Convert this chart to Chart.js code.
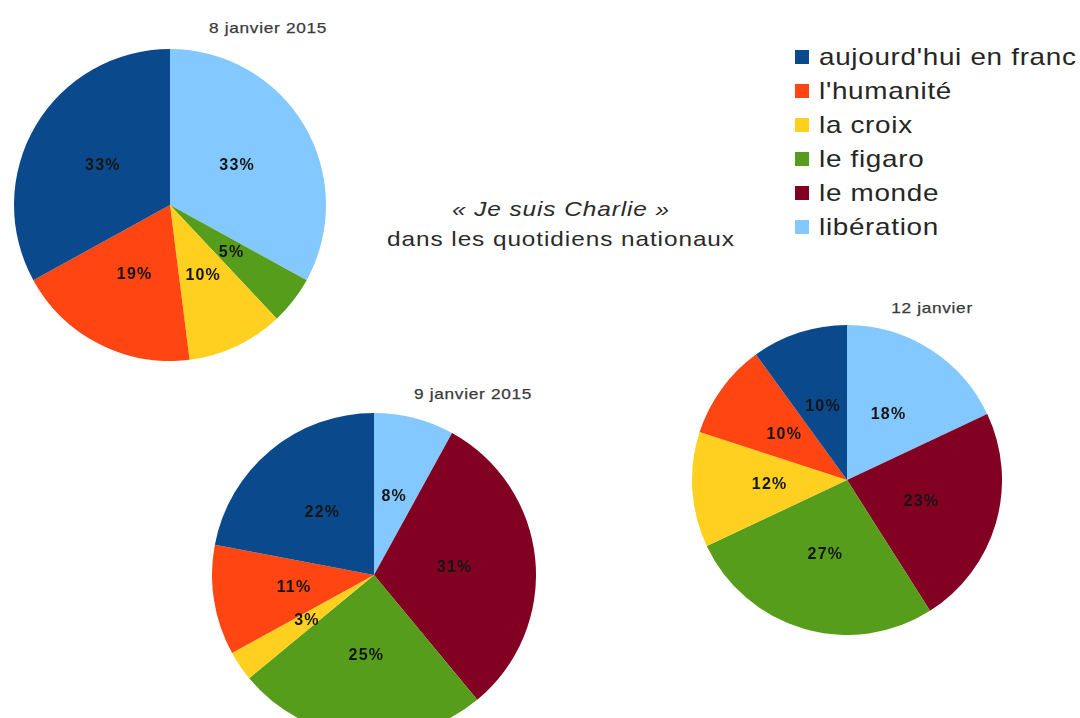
<!DOCTYPE html>
<html>
<head>
<meta charset="utf-8">
<script src="https://cdn.jsdelivr.net/npm/chart.js@4/dist/chart.umd.min.js"></script>
<style>
  html, body { margin: 0; padding: 0; width: 1080px; height: 718px; overflow: hidden; background: #ffffff; }
  body { position: relative; font-family: "Liberation Sans", Arial, sans-serif; }
  .pie { position: absolute; }
  .ptitle { position: absolute; transform: translate(-50%, -50%) scaleX(1.15); font-size: 15px; letter-spacing: 0.6px; color: #3a3a3a; white-space: nowrap; -webkit-text-stroke: 0.25px #3a3a3a; }
  .main { position: absolute; left: 561px; top: 224px; transform: translate(-50%, -50%) scaleX(1.16); text-align: center; color: #2a2a2a; font-size: 21px; letter-spacing: 0.8px; line-height: 30px; white-space: nowrap; }
  #legend { position: absolute; left: 795px; top: 40px; }
  .lrow { position: relative; height: 34px; white-space: nowrap; }
  .lbox { position: absolute; left: 0; top: 10px; width: 14px; height: 14px; }
  .ltxt { position: absolute; left: 24px; top: 0; line-height: 34px; font-size: 24px; letter-spacing: 0.6px; color: #262626; transform-origin: 0 50%; transform: scaleX(1.16); }
</style>
</head>
<body>
<div class="pie" style="left:14px; top:49px;"><canvas id="c1" width="312" height="312"></canvas></div>
<div class="pie" style="left:212px; top:413px;"><canvas id="c2" width="324" height="324"></canvas></div>
<div class="pie" style="left:692px; top:325px;"><canvas id="c3" width="310" height="310"></canvas></div>

<div class="ptitle" id="t1" style="left:268px; top:27px;"></div>
<div class="ptitle" id="t2" style="left:473px; top:393px;"></div>
<div class="ptitle" id="t3" style="left:932px; top:307px;"></div>

<div class="main"><i>« Je suis Charlie »</i><br>dans les quotidiens nationaux</div>

<div id="legend"></div>

<script>
// ---- data ----
const categories = ["aujourd'hui en franc", "l'humanité", "la croix", "le figaro", "le monde", "libération"];
const jan8 = [33, 19, 10, 5, 0, 33];
const jan9 = [22, 11, 3, 25, 31, 8];
const jan12 = [10, 10, 12, 27, 23, 18];
const pieTitles = ["8 janvier 2015", "9 janvier 2015", "12 janvier"];

// ---- style ----
const palette = ["#0a4a8c", "#ff4512", "#ffd020", "#579d1c", "#820022", "#83c8ff"];

// legend
const legend = document.getElementById('legend');
categories.forEach((c, i) => {
  const row = document.createElement('div');
  row.className = 'lrow';
  const box = document.createElement('div');
  box.className = 'lbox';
  box.style.background = palette[i];
  const t = document.createElement('div');
  t.className = 'ltxt';
  t.textContent = c;
  row.appendChild(box); row.appendChild(t);
  legend.appendChild(row);
});

['t1', 't2', 't3'].forEach((id, i) => { document.getElementById(id).textContent = pieTitles[i]; });

const pctLabels = {
  id: 'pctLabels',
  afterDatasetsDraw(chart) {
    const ctx = chart.ctx;
    const meta = chart.getDatasetMeta(0);
    const data = chart.data.datasets[0].data;
    ctx.save();
    ctx.font = 'bold 16px "Liberation Sans", Arial, sans-serif';
    try { ctx.letterSpacing = '1.2px'; } catch (e) {}
    ctx.fillStyle = '#151515';
    ctx.textAlign = 'center';
    ctx.textBaseline = 'middle';
    meta.data.forEach((arc, i) => {
      if (!data[i]) return;
      const p = arc.tooltipPosition();
      ctx.fillText(data[i] + '%', p.x, p.y);
    });
    ctx.restore();
  }
};

function makePie(id, values) {
  // the original draws counter-clockwise from the top, so feed the slices in reverse order
  const labels = categories.slice().reverse();
  const vals = values.slice().reverse();
  const cols = palette.slice().reverse();
  new Chart(document.getElementById(id), {
    type: 'pie',
    data: { labels: labels, datasets: [{ data: vals, backgroundColor: cols, borderWidth: 0 }] },
    options: {
      responsive: false,
      animation: false,
      layout: { padding: 0 },
      plugins: { legend: { display: false }, tooltip: { enabled: false } }
    },
    plugins: [pctLabels]
  });
}

makePie('c1', jan8);
makePie('c2', jan9);
makePie('c3', jan12);
</script>
</body>
</html>
